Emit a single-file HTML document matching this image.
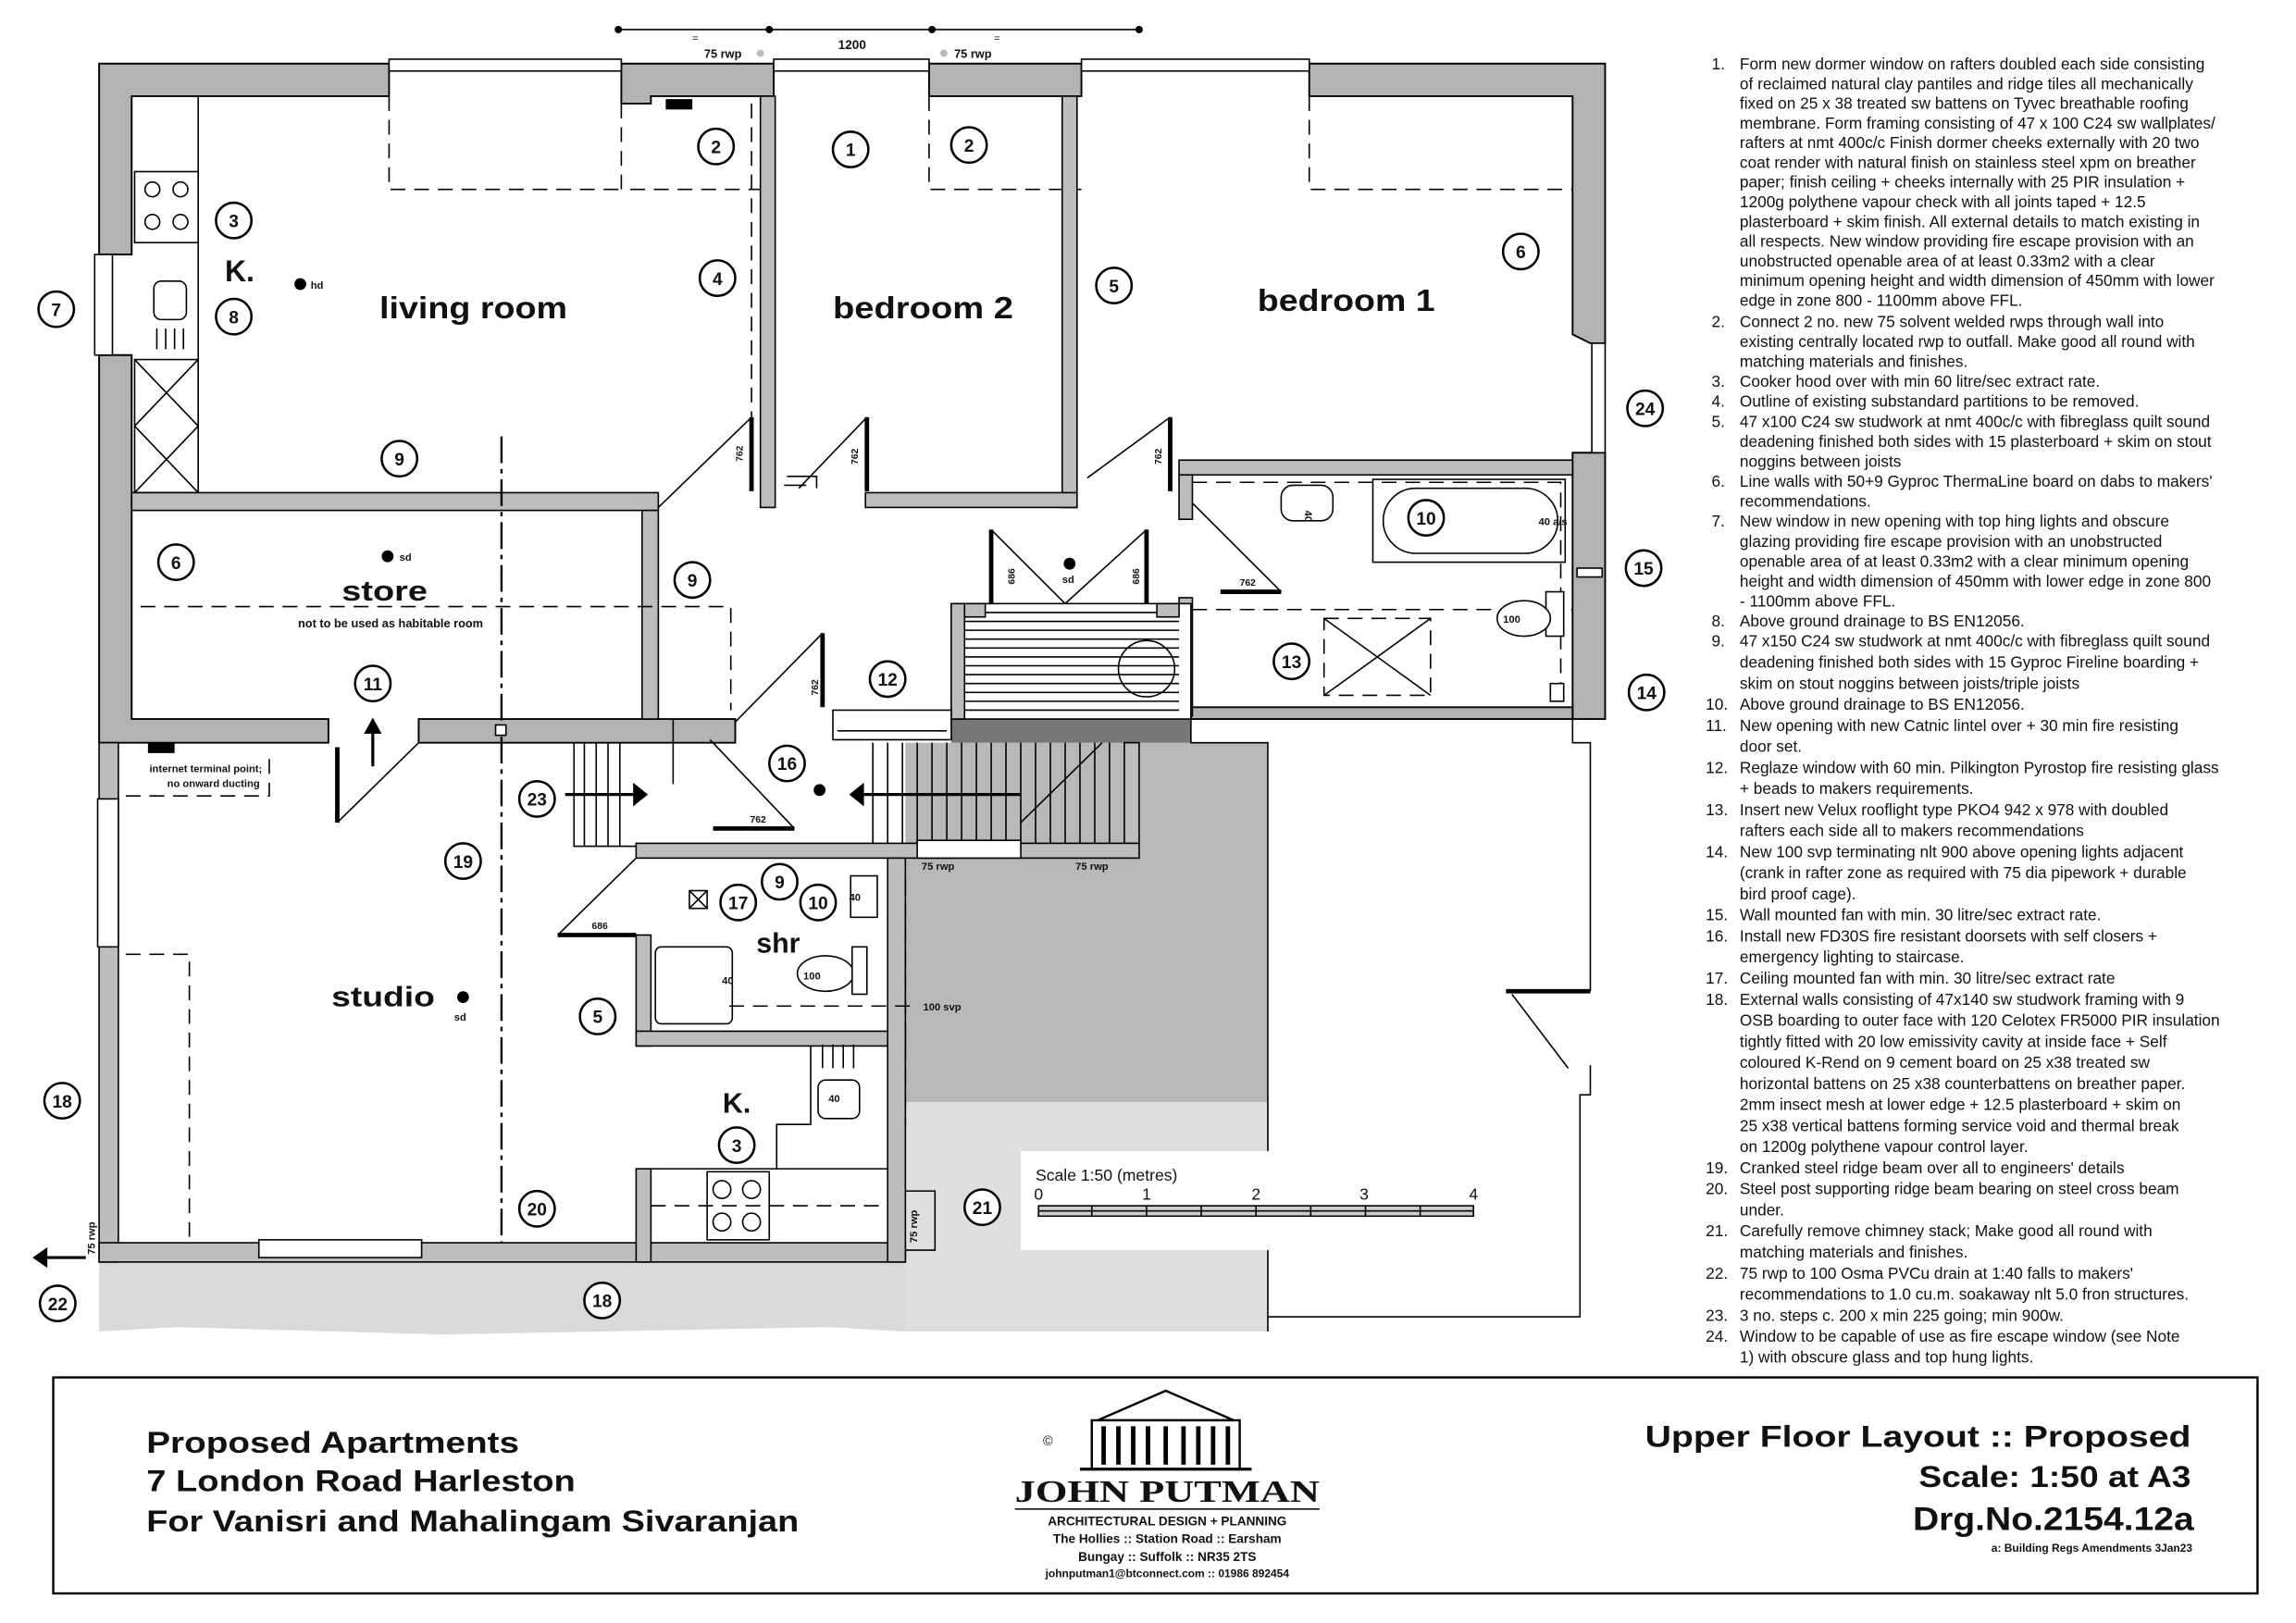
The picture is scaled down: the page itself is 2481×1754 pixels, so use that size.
<!DOCTYPE html>
<html><head><meta charset="utf-8"><style>
html,body{margin:0;padding:0;background:#fff;}
svg{display:block;}
text{font-family:"Liberation Sans",sans-serif;fill:#111;}
.b{font-weight:bold;}
.n{font-size:10.8px;}
.c circle{fill:#fff;stroke:#000;stroke-width:1.6;}
.c text{font-size:12px;font-weight:bold;text-anchor:middle;}
.w{fill:#b3b3b3;stroke:#000;stroke-width:1.2;}
.s{fill:#bdbdbd;stroke:#000;stroke-width:1;}
.d{stroke:#000;stroke-width:1;stroke-dasharray:10 6;fill:none;}
.l{stroke:#000;stroke-width:1;fill:none;}
.t{stroke:#000;stroke-width:3;}
</style></head><body>
<svg width="2481" height="1754" viewBox="0 0 1552 1097" preserveAspectRatio="none" xmlns="http://www.w3.org/2000/svg">
<rect width="1552" height="1097" fill="#fff"/>
<path d="M67 853 L612 853 L612 900 L560 897 L300 902 L120 897 L67 900 Z" fill="#d9d9d9"/>
<rect x="612" y="502" width="245" height="243" fill="#b8b8b8"/>
<rect x="612" y="745" width="245" height="155" fill="#dedede"/>
<rect x="643" y="486" width="162" height="16" fill="#777"/>
<path d="M805 486 L805 502 L857 502 L857 900" class="l"/>
<path d="M1063 486 L1063 502 L1075 502 L1075 670 M1075 720 L1075 740 L1068 740 L1068 890 L857 890" class="l" stroke-width="1.5"/>
<line x1="1018" y1="670" x2="1075" y2="670" class="t"/>
<line x1="1022" y1="672" x2="1060" y2="722" class="l" stroke-width="0.7"/>

<path class="w" d="M67 43 L263 43 L263 65 L89 65 L89 172 L67 172 Z"/>
<path class="w" d="M67 240 L89 240 L89 486 L222 486 L222 502 L67 502 Z"/>
<path class="w" d="M420 43 L523 43 L523 65 L440 65 L440 70 L420 70 Z"/>
<path class="w" d="M628 43 L731 43 L731 65 L628 65 Z"/>
<path class="w" d="M885 43 L1085 43 L1085 232 L1075 232 L1063 226 L1063 65 L885 65 Z"/>
<path class="w" d="M1063 306 L1085 306 L1085 486 L1063 486 Z"/>
<path class="w" d="M283 486 L497 486 L497 502 L283 502 Z"/>
<path class="w" d="M805 478 L1063 478 L1063 486 L805 486 Z"/>
<rect x="263" y="40" width="157" height="8" fill="#fff" stroke="#000"/>
<rect x="523" y="40" width="105" height="8" fill="#fff" stroke="#000"/>
<rect x="731" y="40" width="154" height="8" fill="#fff" stroke="#000"/>
<rect x="64" y="172" width="12" height="68" fill="#fff" stroke="#000"/>
<rect x="1076" y="232" width="9" height="74" fill="#fff" stroke="#000"/>
<rect x="450" y="67" width="18" height="7" fill="#000"/>
<line x1="418" y1="20" x2="770" y2="20" class="l"/>
<g fill="#000"><circle cx="418" cy="20" r="2.5"/><circle cx="520" cy="20" r="2.5"/><circle cx="630" cy="20" r="2.5"/><circle cx="770" cy="20" r="2.5"/></g>
<text x="470" y="28" font-size="7" text-anchor="middle">=</text>
<text x="674" y="28" font-size="7" text-anchor="middle">=</text>
<text x="576" y="33" font-size="8.5" class="b" text-anchor="middle">1200</text>
<text x="476" y="39" font-size="8" class="b">75 rwp</text><circle cx="514" cy="36" r="2.5" fill="#bbb"/>
<circle cx="638" cy="36" r="2.5" fill="#bbb"/><text x="645" y="39" font-size="8" class="b">75 rwp</text>
<path class="d" d="M263 65 L263 128 L420 128 M420 70 L420 128 L523 128 M628 65 L628 128 L731 128 M885 65 L885 128 L1063 128"/>
<rect x="91" y="116" width="43" height="48" fill="#fff" stroke="#000"/>
<circle cx="103" cy="128" r="5" class="l"/><circle cx="122" cy="128" r="5" class="l"/><circle cx="103" cy="150" r="5" class="l"/><circle cx="122" cy="150" r="5" class="l"/>
<line x1="134" y1="65" x2="134" y2="333" class="l"/>
<rect x="104" y="190" width="22" height="26" rx="5" fill="#fff" stroke="#000"/>
<path class="l" d="M106 222 v14 M112 222 v14 M118 222 v14 M124 222 v14"/>
<path class="l" d="M91 243 H134 V333 H91 Z M91 243 L134 288 M134 243 L91 288 M91 288 L134 333 M134 288 L91 333"/>
<rect x="89" y="333" width="356" height="12" class="s"/>
<rect x="434" y="345" width="11" height="141" class="s"/>
<rect x="514" y="65" width="10" height="278" class="s"/>
<line x1="508" y1="70" x2="508" y2="330" class="d" stroke-dasharray="8 3"/>
<rect x="718" y="65" width="10" height="278" class="s"/>
<rect x="585" y="333" width="143" height="10" class="s"/>
<rect x="797" y="311" width="266" height="10" class="s"/>
<rect x="797" y="321" width="9" height="30" class="s"/>
<rect x="797" y="404" width="9" height="80" class="s"/>
<g class="t"><line x1="508" y1="282" x2="508" y2="332"/><line x1="586" y1="282" x2="586" y2="332"/><line x1="791" y1="282" x2="791" y2="332"/>
<line x1="670" y1="358" x2="670" y2="408"/><line x1="775" y1="358" x2="775" y2="408"/><line x1="825" y1="400" x2="866" y2="400"/>
<line x1="556" y1="428" x2="556" y2="478"/><line x1="482" y1="560" x2="537" y2="560"/><line x1="377" y1="632" x2="430" y2="632"/>
<line x1="228" y1="505" x2="228" y2="556"/></g>
<g class="l" stroke-width="0.7"><line x1="445" y1="343" x2="508" y2="282"/><line x1="735" y1="323" x2="791" y2="282"/><line x1="670" y1="358" x2="720" y2="408"/><line x1="775" y1="358" x2="720" y2="408"/><line x1="806" y1="340" x2="866" y2="400"/><line x1="556" y1="428" x2="497" y2="488"/><line x1="480" y1="500" x2="537" y2="560"/><line x1="377" y1="632" x2="430" y2="580"/><line x1="228" y1="556" x2="283" y2="502"/><line x1="586" y1="282" x2="540" y2="330"/></g>
<path class="l" d="M530 328 H545 M532 322 H552 V330"/>
<g font-size="6.5" class="b"><text transform="translate(502 312) rotate(-90)">762</text><text transform="translate(580 314) rotate(-90)">762</text><text transform="translate(785 314) rotate(-90)">762</text><text transform="translate(686 395) rotate(-90)">686</text><text transform="translate(770 395) rotate(-90)">686</text><text x="838" y="396">762</text><text transform="translate(553 470) rotate(-90)">762</text><text x="507" y="556">762</text><text x="400" y="628">686</text></g>
<rect x="643" y="408" width="162" height="78" fill="#fff" stroke="#000"/>
<g class="l" stroke-width="0.8"><path d="M652 414 H797 M652 420 H797 M652 426 H797 M652 432 H797 M652 438 H797 M652 444 H797 M652 450 H797 M652 456 H797 M652 462 H797 M652 468 H797 M652 474 H797 M652 480 H797"/></g>
<rect x="643" y="408" width="9" height="78" class="s"/><rect x="652" y="408" width="14" height="9" class="s"/><rect x="782" y="408" width="15" height="9" class="s"/>
<circle cx="775" cy="452" r="19" class="l" stroke-width="1.5"/>
<rect x="563" y="480" width="80" height="20" fill="#fff" stroke="#000"/><line x1="566" y1="494" x2="640" y2="494" class="l"/>
<line x1="455" y1="486" x2="455" y2="530" class="l"/>
<path class="l" d="M388 502 V572 H430 M395 502 V572 M403 502 V572 M411 502 V572 M419 502 V572"/>
<path class="l" d="M590 502 V570 M600 502 V570 M610 502 V570 M620 502 V570 M630 502 V570 M640 502 V570 M650 502 V570 M660 502 V570 M670 502 V570 M680 502 V570 M690 502 V570 M700 502 V570 M710 502 V570 M720 502 V570 M730 502 V570 M740 502 V570 M750 502 V570"/>
<line x1="690" y1="556" x2="745" y2="502" class="l" stroke-width="0.7"/>
<rect x="760" y="502" width="10" height="68" class="s"/>
<rect x="430" y="570" width="340" height="10" class="s"/>
<rect x="620" y="568" width="70" height="12" fill="#fff" stroke="#000"/>
<g stroke="#000" stroke-width="2"><line x1="382" y1="537" x2="430" y2="537"/><line x1="580" y1="537" x2="690" y2="537"/><line x1="252" y1="518" x2="252" y2="495"/><line x1="25" y1="850" x2="58" y2="850"/></g>
<path d="M438 537 L428 529 L428 545 Z M574 537 L584 529 L584 545 Z M252 485 L246 496 L258 496 Z M22 850 L32 843 L32 857 Z" fill="#000"/>
<line x1="339" y1="295" x2="339" y2="853" stroke="#000" stroke-width="1.5" stroke-dasharray="18 4 3 4"/>
<rect x="335" y="490" width="7" height="7" fill="#fff" stroke="#000"/><rect x="335" y="843" width="7" height="7" fill="#fff" stroke="#000"/>
<path class="d" d="M95 410 H494 V480"/>
<rect x="866" y="328" width="35" height="24" rx="8" fill="#fff" stroke="#000"/>
<rect x="928" y="324" width="130" height="56" fill="#fff" stroke="#000"/>
<rect x="935" y="330" width="118" height="44" rx="22" fill="#fff" stroke="#000"/>
<path class="d" stroke-dasharray="5 3" d="M806 326 H1055 V472"/>
<path class="d" d="M806 412 H1063"/>
<rect x="1045" y="400" width="12" height="30" fill="#fff" stroke="#000"/><ellipse cx="1030" cy="418" rx="18" ry="12" fill="#fff" stroke="#000"/>
<rect x="1048" y="462" width="9" height="12" fill="#fff" stroke="#000"/>
<rect x="895" y="418" width="72" height="52" class="d" stroke-dasharray="6 4"/><path class="l" stroke-width="0.6" d="M895 418 L967 470 M967 418 L895 470"/>
<rect x="1066" y="384" width="17" height="6" fill="#fff" stroke="#000"/>
<rect x="67" y="502" width="13" height="351" class="s"/>
<rect x="66" y="540" width="14" height="100" fill="#fff" stroke="#000"/>
<rect x="67" y="840" width="545" height="13" class="s"/>
<rect x="175" y="838" width="110" height="12" fill="#fff" stroke="#000"/>
<rect x="100" y="502" width="18" height="7" fill="#000"/>
<path class="d" d="M85 538 H182 V510"/>
<path class="d" d="M85 645 H128 V840"/>
<rect x="430" y="632" width="10" height="75" class="s"/>
<rect x="430" y="697" width="182" height="10" class="s"/>
<rect x="600" y="580" width="12" height="273" class="s"/>
<rect x="430" y="790" width="10" height="63" class="s"/>
<rect x="443" y="640" width="52" height="52" rx="4" fill="#fff" stroke="#000"/>
<ellipse cx="558" cy="658" rx="19" ry="12" fill="#fff" stroke="#000"/><rect x="576" y="640" width="10" height="32" fill="#fff" stroke="#000"/>
<rect x="575" y="592" width="18" height="28" fill="#fff" stroke="#000"/>
<path class="d" stroke-dasharray="4 3" d="M493 680 H620 M612 595 V760"/>
<rect x="466" y="602" width="12" height="12" fill="#fff" stroke="#000"/><path class="l" d="M466 602 L478 614 M478 602 L466 614"/>
<rect x="553" y="730" width="28" height="26" rx="5" fill="#fff" stroke="#000"/>
<path class="l" d="M556 706 v16 M563 706 v16 M570 706 v16 M577 706 v16"/>
<path class="l" d="M548 707 V760 H525 V790 H440 M440 790 H600"/>
<rect x="478" y="792" width="42" height="46" fill="#fff" stroke="#000"/>
<circle cx="488" cy="804" r="6" class="l"/><circle cx="508" cy="804" r="6" class="l"/><circle cx="488" cy="826" r="6" class="l"/><circle cx="508" cy="826" r="6" class="l"/>
<path class="d" d="M440 815 H600"/>
<path class="l" d="M612 805 H632 V845 H612"/>
<g fill="#000"><circle cx="203" cy="192" r="4"/><circle cx="262" cy="376" r="4"/><circle cx="723" cy="381" r="4"/><circle cx="554" cy="534" r="4"/><circle cx="313" cy="674" r="4"/></g>
<g font-size="7" class="b"><text x="210" y="195">hd</text><text x="270" y="379">sd</text><text x="718" y="394">sd</text><text x="307" y="690">sd</text><text x="1040" y="355">40 a/s</text><text x="1016" y="421">100</text><text x="488" y="665">40</text><text x="574" y="609">40</text><text x="543" y="662">100</text><text x="560" y="745">40</text><text x="624" y="683">100 svp</text><text x="623" y="588">75 rwp</text><text x="727" y="588">75 rwp</text><text x="101" y="522">internet terminal point;</text><text x="113" y="532">no onward ducting</text>
<text transform="translate(64 848) rotate(-90)">75 rwp</text><text transform="translate(620 840) rotate(-90)">75 rwp</text><text transform="translate(882 345) rotate(90)">40</text></g>
<g class="b" text-anchor="middle"><text x="320" y="215" font-size="21" textLength="127" lengthAdjust="spacingAndGlyphs">living room</text><text x="624" y="215" font-size="21" textLength="122" lengthAdjust="spacingAndGlyphs">bedroom 2</text><text x="910" y="210" font-size="21" textLength="120" lengthAdjust="spacingAndGlyphs">bedroom 1</text><text x="162" y="190" font-size="20">K.</text><text x="260" y="406" font-size="19" textLength="58" lengthAdjust="spacingAndGlyphs">store</text><text x="264" y="424" font-size="8">not to be used as habitable room</text><text x="259" y="680" font-size="19" textLength="70" lengthAdjust="spacingAndGlyphs">studio</text><text x="526" y="644" font-size="19">shr</text><text x="498" y="752" font-size="19">K.</text></g>
<g class="c">
<g transform="translate(484 99)"><circle r="12"/><text y="4.5">2</text></g>
<g transform="translate(575 101)"><circle r="12"/><text y="4.5">1</text></g>
<g transform="translate(655 98)"><circle r="12"/><text y="4.5">2</text></g>
<g transform="translate(158 149)"><circle r="12"/><text y="4.5">3</text></g>
<g transform="translate(158 214)"><circle r="12"/><text y="4.5">8</text></g>
<g transform="translate(38 209)"><circle r="12"/><text y="4.5">7</text></g>
<g transform="translate(485 188)"><circle r="12"/><text y="4.5">4</text></g>
<g transform="translate(753 193)"><circle r="12"/><text y="4.5">5</text></g>
<g transform="translate(1028 170)"><circle r="12"/><text y="4.5">6</text></g>
<g transform="translate(1112 276)"><circle r="12"/><text y="4.5">24</text></g>
<g transform="translate(270 310)"><circle r="12"/><text y="4.5">9</text></g>
<g transform="translate(119 380)"><circle r="12"/><text y="4.5">6</text></g>
<g transform="translate(468 392)"><circle r="12"/><text y="4.5">9</text></g>
<g transform="translate(964 350)"><circle r="12"/><text y="4.5">10</text></g>
<g transform="translate(1111 384)"><circle r="12"/><text y="4.5">15</text></g>
<g transform="translate(873 447)"><circle r="12"/><text y="4.5">13</text></g>
<g transform="translate(1113 468)"><circle r="12"/><text y="4.5">14</text></g>
<g transform="translate(252 462)"><circle r="12"/><text y="4.5">11</text></g>
<g transform="translate(600 459)"><circle r="12"/><text y="4.5">12</text></g>
<g transform="translate(532 516)"><circle r="12"/><text y="4.5">16</text></g>
<g transform="translate(363 540)"><circle r="12"/><text y="4.5">23</text></g>
<g transform="translate(313 582)"><circle r="12"/><text y="4.5">19</text></g>
<g transform="translate(527 596)"><circle r="12"/><text y="4.5">9</text></g>
<g transform="translate(499 610)"><circle r="12"/><text y="4.5">17</text></g>
<g transform="translate(553 610)"><circle r="12"/><text y="4.5">10</text></g>
<g transform="translate(404 687)"><circle r="12"/><text y="4.5">5</text></g>
<g transform="translate(42 744)"><circle r="12"/><text y="4.5">18</text></g>
<g transform="translate(498 774)"><circle r="12"/><text y="4.5">3</text></g>
<g transform="translate(363 817)"><circle r="12"/><text y="4.5">20</text></g>
<g transform="translate(664 816)"><circle r="12"/><text y="4.5">21</text></g>
<g transform="translate(407 879)"><circle r="12"/><text y="4.5">18</text></g>
<g transform="translate(39 881)"><circle r="12"/><text y="4.5">22</text></g>
</g>
<rect x="690" y="778" width="320" height="67" fill="#fff"/>
<text x="700" y="798" font-size="11">Scale 1:50 (metres)</text>
<g font-size="11"><text x="699" y="811">0</text><text x="772" y="811">1</text><text x="846" y="811">2</text><text x="919" y="811">3</text><text x="993" y="811">4</text></g>
<rect x="702" y="815" width="294" height="7" fill="#ccc" stroke="#000"/>
<path class="l" d="M702 818.5 H996 M738 815 v7 M775 815 v7 M812 815 v7 M849 815 v7 M886 815 v7 M923 815 v7 M960 815 v7"/>

<g class="n">
<text x="1157" y="47">1.</text>
<text x="1176" y="47">Form new dormer window on rafters doubled each side consisting</text>
<text x="1176" y="60.3">of reclaimed natural clay pantiles and ridge tiles all mechanically</text>
<text x="1176" y="73.6">fixed on 25 x 38 treated sw battens on Tyvec breathable roofing</text>
<text x="1176" y="86.9">membrane.  Form framing consisting of 47 x 100 C24 sw wallplates/</text>
<text x="1176" y="100.2">rafters at nmt 400c/c Finish dormer cheeks externally with 20 two</text>
<text x="1176" y="113.5">coat render with natural finish on stainless steel xpm on breather</text>
<text x="1176" y="126.8">paper; finish ceiling + cheeks internally with 25 PIR insulation +</text>
<text x="1176" y="140.1">1200g polythene vapour check with all joints taped + 12.5</text>
<text x="1176" y="153.4">plasterboard + skim finish.  All external details to match existing in</text>
<text x="1176" y="166.7">all respects.  New window providing fire escape provision with an</text>
<text x="1176" y="180">unobstructed openable area of at least 0.33m2 with a clear</text>
<text x="1176" y="193.3">minimum opening height and width dimension of 450mm with lower</text>
<text x="1176" y="206.6">edge in zone 800 - 1100mm above FFL.</text>
<text x="1157" y="221">2.</text><text x="1176" y="221">Connect 2 no. new 75 solvent welded rwps through wall into</text>
<text x="1176" y="234.5">existing centrally located rwp to outfall.  Make good all round with</text>
<text x="1176" y="248">matching materials and finishes.</text>
<text x="1157" y="261.5">3.</text><text x="1176" y="261.5">Cooker hood over with min 60 litre/sec extract rate.</text>
<text x="1157" y="275">4.</text><text x="1176" y="275">Outline of existing substandard partitions to be removed.</text>
<text x="1157" y="288.5">5.</text><text x="1176" y="288.5">47 x100 C24 sw studwork at nmt 400c/c with fibreglass quilt sound</text>
<text x="1176" y="302">deadening finished both sides with 15 plasterboard + skim on stout</text>
<text x="1176" y="315.5">noggins between joists</text>
<text x="1157" y="329">6.</text><text x="1176" y="329">Line walls with 50+9 Gyproc ThermaLine board on dabs to makers'</text>
<text x="1176" y="342.5">recommendations.</text>
<text x="1157" y="356">7.</text><text x="1176" y="356">New window in new opening with top hing lights and obscure</text>
<text x="1176" y="369.5">glazing providing fire escape provision with an unobstructed</text>
<text x="1176" y="383">openable area of at least 0.33m2 with a clear minimum opening</text>
<text x="1176" y="396.5">height and width dimension of 450mm with lower edge in zone 800</text>
<text x="1176" y="410">- 1100mm above FFL.</text>
<text x="1157" y="423.5">8.</text><text x="1176" y="423.5">Above ground drainage to BS EN12056.</text>
<text x="1157" y="437">9.</text><text x="1176" y="437">47 x150 C24 sw studwork at nmt 400c/c with fibreglass quilt sound</text>
<text x="1176" y="451.2">deadening finished both sides with 15 Gyproc Fireline boarding +</text>
<text x="1176" y="465.5">skim on stout noggins between joists/triple joists</text>
<text x="1153" y="479.7">10.</text><text x="1176" y="479.7">Above ground drainage to BS EN12056.</text>
<text x="1153" y="494">11.</text><text x="1176" y="494">New opening with new Catnic lintel over + 30 min fire resisting</text>
<text x="1176" y="508.2">door set.</text>
<text x="1153" y="522.4">12.</text><text x="1176" y="522.4">Reglaze window with 60 min. Pilkington Pyrostop fire resisting glass</text>
<text x="1176" y="536.7">+ beads to makers requirements.</text>
<text x="1153" y="550.9">13.</text><text x="1176" y="550.9">Insert new Velux rooflight type PKO4 942 x 978 with doubled</text>
<text x="1176" y="565.2">rafters each side all to makers recommendations</text>
<text x="1153" y="579.4">14.</text><text x="1176" y="579.4">New 100 svp terminating nlt 900 above opening lights adjacent</text>
<text x="1176" y="593.6">(crank in rafter zone as required with 75 dia pipework + durable</text>
<text x="1176" y="607.9">bird proof cage).</text>
<text x="1153" y="622.1">15.</text><text x="1176" y="622.1">Wall mounted fan with min. 30 litre/sec extract rate.</text>
<text x="1153" y="636.4">16.</text><text x="1176" y="636.4">Install new FD30S fire resistant doorsets with self closers +</text>
<text x="1176" y="650.6">emergency lighting to staircase.</text>
<text x="1153" y="664.8">17.</text><text x="1176" y="664.8">Ceiling mounted fan with min. 30 litre/sec extract rate</text>
<text x="1153" y="679.1">18.</text><text x="1176" y="679.1">External walls consisting of 47x140 sw studwork framing with 9</text>
<text x="1176" y="693.3">OSB boarding to outer face with 120 Celotex FR5000 PIR insulation</text>
<text x="1176" y="707.6">tightly fitted with 20 low emissivity cavity at inside face + Self</text>
<text x="1176" y="721.8">coloured K-Rend on 9 cement board on 25 x38 treated sw</text>
<text x="1176" y="736">horizontal battens on 25 x38 counterbattens on breather paper.</text>
<text x="1176" y="750.3">2mm insect mesh at lower edge + 12.5 plasterboard + skim on</text>
<text x="1176" y="764.5">25 x38 vertical battens forming service void and thermal break</text>
<text x="1176" y="778.8">on 1200g polythene vapour control layer.</text>
<text x="1153" y="793">19.</text><text x="1176" y="793">Cranked steel ridge beam over all to engineers' details</text>
<text x="1153" y="807.2">20.</text><text x="1176" y="807.2">Steel post supporting ridge beam bearing on steel cross beam</text>
<text x="1176" y="821.5">under.</text>
<text x="1153" y="835.7">21.</text><text x="1176" y="835.7">Carefully remove chimney stack; Make good all round with</text>
<text x="1176" y="850">matching materials and finishes.</text>
<text x="1153" y="864.2">22.</text><text x="1176" y="864.2">75 rwp to 100 Osma PVCu drain at 1:40 falls to makers'</text>
<text x="1176" y="878.4">recommendations to 1.0 cu.m. soakaway nlt 5.0 fron structures.</text>
<text x="1153" y="892.7">23.</text><text x="1176" y="892.7">3 no. steps c. 200 x min 225 going; min 900w.</text>
<text x="1153" y="906.9">24.</text><text x="1176" y="906.9">Window to be capable of use as fire escape window (see Note</text>
<text x="1176" y="921">1) with obscure glass and top hung lights.</text>
</g>

<rect x="36" y="931" width="1490" height="146" fill="none" stroke="#000" stroke-width="1.5"/>
<g class="b" font-size="20"><text x="99" y="982" textLength="252" lengthAdjust="spacingAndGlyphs">Proposed Apartments</text><text x="99" y="1008" textLength="290" lengthAdjust="spacingAndGlyphs">7 London Road Harleston</text><text x="99" y="1035" textLength="441" lengthAdjust="spacingAndGlyphs">For Vanisri and Mahalingam Sivaranjan</text></g>
<g class="b" text-anchor="end"><text x="1481" y="978" font-size="20" textLength="369" lengthAdjust="spacingAndGlyphs">Upper Floor Layout  ::  Proposed</text><text x="1481" y="1005" font-size="20" textLength="184" lengthAdjust="spacingAndGlyphs">Scale: 1:50 at A3</text><text x="1483" y="1034" font-size="22" textLength="190" lengthAdjust="spacingAndGlyphs">Drg.No.2154.12a</text><text x="1482" y="1049" font-size="7.5">a: Building Regs Amendments 3Jan23</text></g>
<text x="705" y="977" font-size="9">©</text>
<path d="M742 960 L788 940 L834 960 Z" fill="none" stroke="#000" stroke-width="1.5"/>
<rect x="738" y="960" width="100" height="33" fill="#fff" stroke="#000" stroke-width="1.5"/>
<g stroke="#000" stroke-width="3"><path d="M746 964 v26 M756 964 v26 M766 964 v26 M776 964 v26 M788 964 v26 M800 964 v26 M810 964 v26 M820 964 v26 M830 964 v26"/></g>
<line x1="730" y1="993" x2="846" y2="993" stroke="#000" stroke-width="2"/>
<text x="789" y="1015" font-size="21" font-weight="bold" text-anchor="middle" textLength="206" lengthAdjust="spacingAndGlyphs" style="font-family:'Liberation Serif',serif">JOHN PUTMAN</text>
<line x1="686" y1="1020" x2="892" y2="1020" stroke="#000" stroke-width="1"/>
<g class="b" text-anchor="middle"><text x="789" y="1031" font-size="8.5">ARCHITECTURAL DESIGN + PLANNING</text><text x="789" y="1043" font-size="8.5">The Hollies  ::  Station Road  ::  Earsham</text><text x="789" y="1055" font-size="8.5">Bungay  ::  Suffolk  ::  NR35 2TS</text><text x="789" y="1066" font-size="7.5">johnputman1@btconnect.com  ::  01986 892454</text></g>
</svg>
</body></html>
